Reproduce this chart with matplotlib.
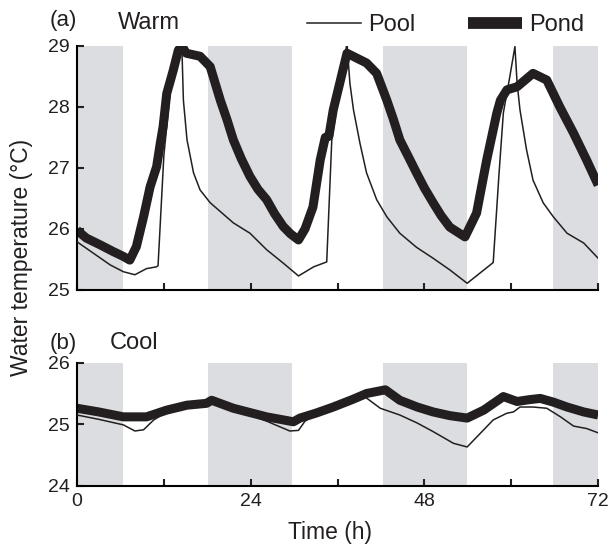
import matplotlib.pyplot as plt
from matplotlib.lines import Line2D

plt.rcParams['font.family'] = ['Liberation Sans', 'DejaVu Sans']
plt.rcParams['text.color'] = '#231f20'
plt.rcParams['axes.labelcolor'] = '#231f20'
plt.rcParams['xtick.color'] = '#231f20'
plt.rcParams['ytick.color'] = '#231f20'

# dark periods (h)
dark = [(0, 6.4), (18.1, 29.7), (42.3, 53.9), (65.8, 72)]

# warm treatment
warm_pool_t = [0, 2.3, 4.6, 6.4, 8, 9.6, 11, 11.2, 12.0, 13.0, 14.0, 14.5, 14.7, 15.2, 16.1, 17, 18.4, 21.6, 23.9, 26.2, 28.5, 30.6,
               32.7, 34.5, 35.2, 36.3, 37.3, 37.7, 38.2, 39.1, 40, 41.4, 42.8, 44.6, 46.9, 49.2, 51.5, 53.9,
               55.7, 57.5, 58.3, 58.9, 59.8, 60.5, 60.8, 61.2, 62.1, 63, 64.4, 65.8, 67.7, 70, 72]
warm_pool = [25.79, 25.6, 25.41, 25.3, 25.25, 25.35, 25.38, 25.4, 27.2, 28.4, 29.08, 28.93, 28.11, 27.46, 26.92, 26.64, 26.43, 26.1, 25.93, 25.66, 25.44, 25.23,
             25.38, 25.46, 27.46, 28.3, 29.05, 28.39, 27.95, 27.4, 26.92, 26.48, 26.2, 25.93, 25.7, 25.52, 25.33, 25.11,
             25.28, 25.45, 26.9, 27.9, 28.5, 28.99, 28.39, 27.95, 27.3, 26.8, 26.43, 26.2, 25.93, 25.77, 25.52]
warm_pond_t = [0, 1.3, 3.2, 5, 6.4, 7.3, 8.2, 9.2, 10.1, 11, 11.5, 11.9, 12.4, 13.3, 14, 14.5, 15.1, 17, 18.4, 19.8, 20.7, 21.6,
               22.7, 23.9, 25, 26.2, 27.3, 28.5, 29.5, 30.6,
               31.5, 32.6, 33.6, 34.3, 34.8, 35.4, 36.3, 37.3, 40, 41.4, 42.8, 43.7, 44.6, 45.8, 46.9, 48, 49.2, 50.3, 51.5, 53.6,
               55.2, 56.6, 58, 58.5, 59.4, 60.8, 63, 64.9, 66.7, 68.6, 70.4, 72]
warm_pond = [25.98, 25.85, 25.74, 25.63, 25.55, 25.49, 25.71, 26.2, 26.69, 27.02, 27.4, 27.68, 28.22, 28.6, 28.93, 29.0, 28.88, 28.83, 28.66, 28.11, 27.8, 27.46,
             27.15, 26.86, 26.65, 26.48, 26.25, 26.04, 25.92, 25.82,
             26.0, 26.36, 27.13, 27.5, 27.52, 27.95, 28.39, 28.88, 28.72, 28.55, 28.11, 27.8, 27.46, 27.18, 26.92, 26.67, 26.43, 26.22, 26.03, 25.87,
             26.26, 27.13, 27.9, 28.11, 28.28, 28.33, 28.55, 28.44, 28.0, 27.57, 27.13, 26.72]

# cool treatment
cool_pool_t = [0, 3, 6.4, 8, 9.2, 10.6, 12.4, 15, 17, 18.4, 21.6, 24, 26.2, 28, 29.4, 30.6, 31.5,
               33.5, 36, 38, 39.5, 41.9, 44.6, 47, 49.2, 52, 53.9, 55.7, 57.5, 59.4, 60.3, 61.2,
               63, 64.9, 66.8, 68.6, 70.4, 72]
cool_pool = [25.15, 25.08, 24.99, 24.89, 24.91, 25.07, 25.2, 25.28, 25.32, 25.36, 25.24, 25.15, 25.05, 24.96, 24.89, 24.9, 25.05,
             25.2, 25.32, 25.43, 25.47, 25.26, 25.15, 25.02, 24.88, 24.69, 24.63, 24.85, 25.07, 25.18, 25.2, 25.28,
             25.28, 25.26, 25.12, 24.97, 24.93, 24.86]
cool_pond_t = [0, 3, 6.4, 9.6, 12.4, 15.2, 17.9, 18.6, 21.6, 26.2, 29.9, 30.8, 33, 35.4, 38, 40, 42.6,
               44.6, 47, 49.2, 51.5, 53.9, 56.2, 58.9, 60.8, 62.5, 64, 65.8, 67.7, 70, 72]
cool_pond = [25.26, 25.2, 25.12, 25.12, 25.23, 25.31, 25.34, 25.39, 25.26, 25.12, 25.04, 25.1, 25.18, 25.28, 25.4, 25.5, 25.56,
             25.39, 25.28, 25.2, 25.14, 25.1, 25.23, 25.45, 25.37, 25.4, 25.42, 25.36, 25.28, 25.2, 25.15]

fig = plt.figure(figsize=(6.11, 5.53), dpi=100)
ax1 = fig.add_axes([0.126, 0.4756, 0.853, 0.4414])
ax2 = fig.add_axes([0.126, 0.1217, 0.853, 0.2223])

panels = [(ax1, warm_pool_t, warm_pool, warm_pond_t, warm_pond, (25, 29), [25, 26, 27, 28, 29]),
          (ax2, cool_pool_t, cool_pool, cool_pond_t, cool_pond, (24, 26), [24, 25, 26])]
for ax, pt, pv, dt, dv, ylim, yt in panels:
    for a, b in dark:
        ax.axvspan(a, b, color='#dcdde0', lw=0, zorder=0)
    ax.plot(dt, dv, color='#231f20', lw=6.5, solid_capstyle='butt', solid_joinstyle='round', zorder=2)
    ax.plot(pt, pv, color='#231f20', lw=1.1, zorder=3)
    ax.set_xlim(0, 72)
    ax.set_ylim(*ylim)
    ax.set_yticks(yt)
    ax.set_xticks([0, 24, 48, 72])
    ax.set_xticks([12, 36, 60], minor=True)
    ax.tick_params(direction='in', length=5, width=1.5, labelsize=14, pad=5)
    ax.tick_params(which='minor', direction='in', length=5, width=1.5)
    ax.spines['top'].set_visible(False)
    ax.spines['right'].set_visible(False)
    ax.spines['left'].set_linewidth(1.5)
    ax.spines['bottom'].set_linewidth(1.5)

ax1.tick_params(labelbottom=False)
ax2.set_xlabel('Time (h)', fontsize=16.5, labelpad=8)
ax2.xaxis.set_label_coords(0.485, -0.29)
fig.text(0.035, 0.535, 'Water temperature (°C)', rotation=90, ha='center', va='center', fontsize=16.5)

fig.text(0.082, 0.963, '(a)', fontsize=16, ha='left', va='center')
fig.text(0.193, 0.958, 'Warm', fontsize=17, ha='left', va='center')
fig.text(0.082, 0.379, '(b)', fontsize=16, ha='left', va='center')
fig.text(0.18, 0.379, 'Cool', fontsize=17, ha='left', va='center')

handles = [Line2D([], [], color='#231f20', lw=1.1), Line2D([], [], color='#231f20', lw=8.5, solid_capstyle='butt')]
fig.legend(handles, ['Pool', 'Pond'], loc='center right', bbox_to_anchor=(0.956, 0.955), ncol=2, frameon=False,
           fontsize=17, handlelength=2.3, handletextpad=0.3, columnspacing=2.2, borderaxespad=0, borderpad=0)

fig.savefig('out.png', dpi=100)
